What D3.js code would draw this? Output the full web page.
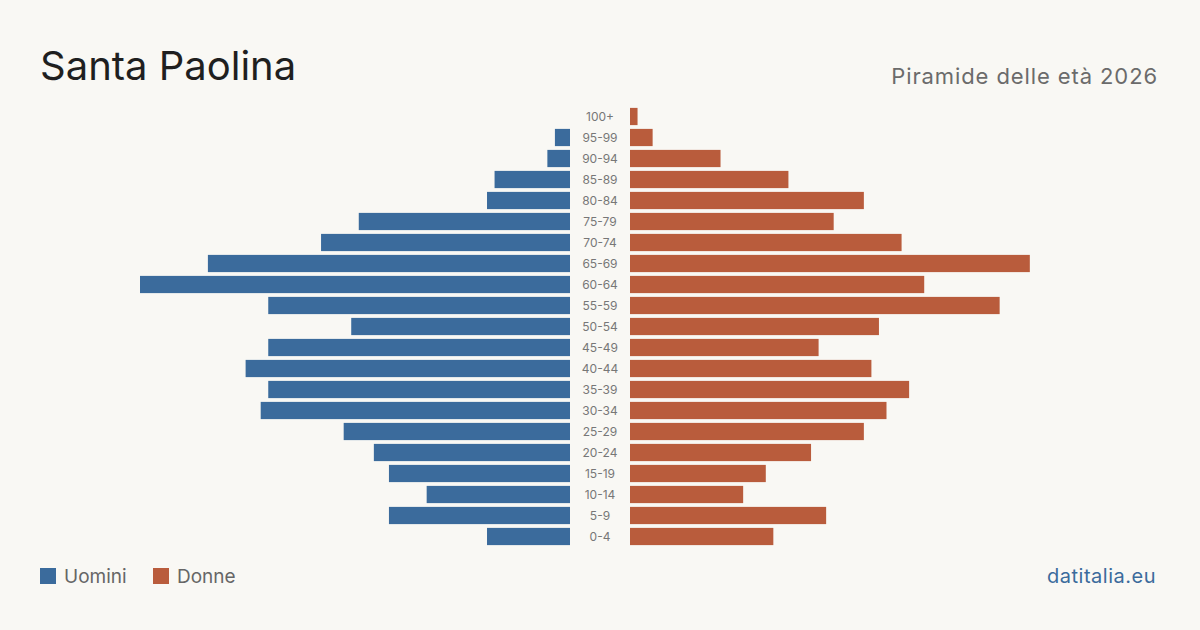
<!DOCTYPE html>
<html lang="it">
<head>
<meta charset="UTF-8">
<script src="https://d3js.org/d3.v7.min.js"></script>
<style>
  html, body { margin: 0; padding: 0; background: #f9f8f4; }
  svg { display: block; font-family: Inter, "Open Sans", sans-serif; }
</style>
</head>
<body>
<div id="chart"></div>
<script>
// Classi d'età (dall'alto verso il basso)
const ageGroups = ["100+", "95-99", "90-94", "85-89", "80-84", "75-79", "70-74", "65-69", "60-64", "55-59",
  "50-54", "45-49", "40-44", "35-39", "30-34", "25-29", "20-24", "15-19", "10-14", "5-9", "0-4"];
const men   = [0, 2, 3, 10, 11, 28, 33, 48, 57, 40, 29, 40, 43, 40, 41, 30, 26, 24, 19, 24, 11];
const women = [1, 3, 12, 21, 31, 27, 36, 53, 39, 49, 33, 25, 32, 37, 34, 31, 24, 18, 15, 26, 19];
const legendLabels = ["Uomini", "Donne"];

const width = 1200, height = 630;
const blue = "#3b6b9c", orange = "#b95c3c";

const svg = d3.select("#chart").append("svg")
  .attr("width", width).attr("height", height);

svg.append("rect").attr("width", width).attr("height", height).attr("fill", "#f9f8f4");

// Titoli
svg.append("text").attr("x", 40).attr("y", 80)
  .attr("font-size", 40).attr("fill", "#1f1f1f").text("Santa Paolina");
svg.append("text").attr("x", 1158).attr("y", 84).attr("text-anchor", "end")
  .attr("font-size", 22).attr("letter-spacing", 0.9).attr("fill", "#6b6b6b").text("Piramide delle età 2026");

// Scale
const maxVal = d3.max(men.concat(women));
const y = d3.scaleBand().domain(ageGroups).range([106, 547]).paddingInner(0.18).paddingOuter(0.09);
const xLeft = d3.scaleLinear().domain([0, maxVal]).range([570, 140]);
const xRight = d3.scaleLinear().domain([0, maxVal]).range([630, 1060]);

svg.append("g").selectAll("rect").data(ageGroups).join("rect")
  .attr("x", (d, i) => xLeft(men[i]))
  .attr("y", d => y(d))
  .attr("width", (d, i) => xLeft(0) - xLeft(men[i]))
  .attr("height", y.bandwidth())
  .attr("fill", blue);

svg.append("g").selectAll("rect").data(ageGroups).join("rect")
  .attr("x", xRight(0))
  .attr("y", d => y(d))
  .attr("width", (d, i) => xRight(women[i]) - xRight(0))
  .attr("height", y.bandwidth())
  .attr("fill", orange);

// Etichette età
svg.append("g").selectAll("text").data(ageGroups).join("text")
  .attr("x", 600)
  .attr("y", d => y(d) + y.bandwidth() / 2)
  .attr("dy", "0.35em")
  .attr("text-anchor", "middle")
  .attr("font-size", 12)
  .attr("fill", "#777")
  .text(d => d);

// Legenda
const legend = svg.append("g");
[[40, blue], [153, orange]].forEach(([lx, c], i) => {
  legend.append("rect").attr("x", lx).attr("y", 568).attr("width", 16).attr("height", 16).attr("fill", c);
  legend.append("text").attr("x", lx + 24).attr("y", 583)
    .attr("font-size", 19).attr("fill", "#666").text(legendLabels[i]);
});

svg.append("text").attr("x", 1156).attr("y", 583).attr("text-anchor", "end")
  .attr("font-size", 20).attr("letter-spacing", 0.5).attr("fill", "#3b6b9c").text("datitalia.eu");
</script>
</body>
</html>
